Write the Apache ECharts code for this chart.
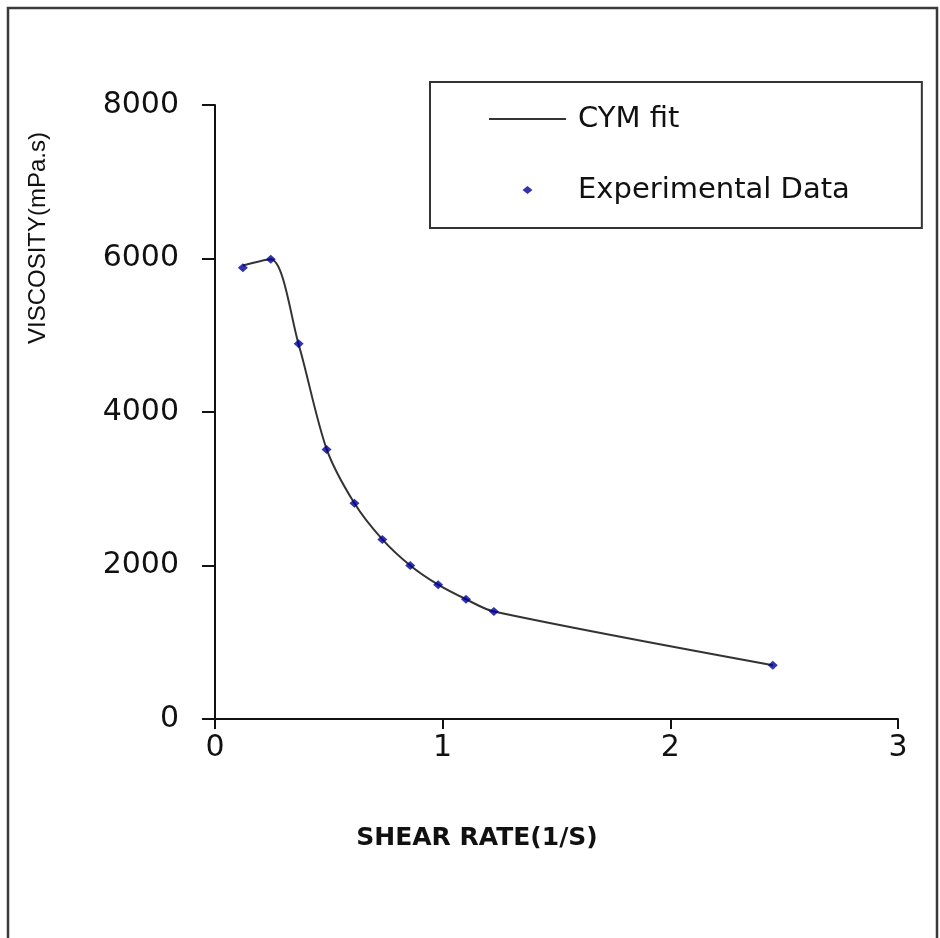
<!DOCTYPE html>
<html>
<head>
<meta charset="utf-8">
<title>Viscosity vs Shear Rate</title>
<script src="https://cdn.jsdelivr.net/npm/echarts@6/dist/echarts.min.js"></script>
<style>
  html, body { margin: 0; padding: 0; background: #ffffff; }
  #chart { width: 940px; height: 938px; }
</style>
</head>
<body>
<div id="chart"></div>
<script>
// Shear rates (1/s) at which viscosity was measured
const shearRate = [0.1225, 0.245, 0.3675, 0.49, 0.6125, 0.735, 0.8575, 0.98, 1.1025, 1.225, 2.45];
// Measured viscosity (mPa.s)
const viscosityMeasured = [5880, 5990, 4890, 3510, 2810, 2340, 2000, 1750, 1560, 1400, 700];
// CYM model curve evaluated at the same shear rates (mPa.s)
const viscosityFit = [5910, 5990, 4880, 3520, 2810, 2340, 2000, 1750, 1560, 1400, 700];

const xTicks = [0, 1, 2, 3];
const yTicks = [0, 2000, 4000, 6000, 8000];

const seriesNames = ['CYM fit', 'Experimental Data'];
const xTitle = 'SHEAR RATE(1/S)';
const yTitle = 'VISCOSITY(mPa.s)';

const pair = (xs, ys) => xs.map((x, i) => [x, ys[i]]);

const chart = echarts.init(document.getElementById('chart'), null, { renderer: 'canvas' });

const labelFont = 'DejaVu Sans';
const ink = '#111111';
const markerColor = '#000099';
// small diamond used for the legend entry so it keeps its proportions
const diamondIcon = 'path://M0,-0.8L1,0L0,0.8L-1,0Z';

chart.setOption({
  backgroundColor: '#ffffff',
  animation: false,
  grid: { left: 215, top: 105, right: 42, bottom: 219, containLabel: false },
  xAxis: {
    type: 'value',
    min: xTicks[0],
    max: xTicks[xTicks.length - 1],
    interval: xTicks[1] - xTicks[0],
    axisLine: { show: true, onZero: false, lineStyle: { color: '#111', width: 2 } },
    axisTick: { show: true, inside: false, length: 10, lineStyle: { color: '#111', width: 2 } },
    splitLine: { show: false },
    axisLabel: {
      margin: 14, color: ink, fontFamily: labelFont, fontSize: 30,
      formatter: v => String(v)
    }
  },
  yAxis: {
    type: 'value',
    min: yTicks[0],
    max: yTicks[yTicks.length - 1],
    interval: yTicks[1] - yTicks[0],
    axisLine: { show: true, onZero: false, lineStyle: { color: '#111', width: 2 } },
    axisTick: { show: true, inside: false, length: 13, lineStyle: { color: '#111', width: 2 } },
    splitLine: { show: false },
    axisLabel: {
      margin: 36, color: ink, fontFamily: labelFont, fontSize: 30,
      formatter: v => String(v)
    }
  },
  legend: {
    orient: 'vertical',
    left: 430,
    top: 82,
    padding: [22, 72, 23, 58],
    itemGap: 41,
    itemWidth: 77,
    itemHeight: 8,
    symbolKeepAspect: true,
    borderColor: '#333',
    borderWidth: 2,
    borderRadius: 0,
    backgroundColor: '#ffffff',
    data: [
      { name: seriesNames[0], itemStyle: { opacity: 0 } },
      { name: seriesNames[1], icon: diamondIcon }
    ],
    textStyle: {
      color: ink,
      fontFamily: labelFont,
      fontSize: 29,
      lineHeight: 30,
      padding: [0, 0, 0, 7]
    }
  },
  graphic: [
    {
      type: 'rect',
      silent: true,
      shape: { x: 8, y: 8, width: 929, height: 950 },
      style: { fill: 'none', stroke: '#3a3a3a', lineWidth: 2.5 }
    },
    {
      type: 'text',
      x: 38,
      y: 238,
      rotation: Math.PI / 2,
      silent: true,
      style: {
        text: yTitle,
        fill: ink,
        font: '24px "Liberation Sans", Arial, sans-serif',
        textAlign: 'center',
        textVerticalAlign: 'middle'
      }
    },
    {
      type: 'text',
      x: 477,
      y: 838,
      silent: true,
      style: {
        text: xTitle,
        fill: ink,
        font: 'bold 25px "DejaVu Sans", sans-serif',
        textAlign: 'center',
        textVerticalAlign: 'middle'
      }
    }
  ],
  series: [
    {
      name: seriesNames[0],
      type: 'line',
      data: pair(shearRate, viscosityFit),
      smooth: 0.3,
      symbol: 'none',
      lineStyle: { color: '#333333', width: 2 },
      itemStyle: { color: '#333333' },
      z: 2
    },
    {
      name: seriesNames[1],
      type: 'scatter',
      data: pair(shearRate, viscosityMeasured),
      symbol: 'diamond',
      symbolSize: [10, 9],
      itemStyle: { color: markerColor },
      z: 3
    }
  ]
});
</script>
</body>
</html>
